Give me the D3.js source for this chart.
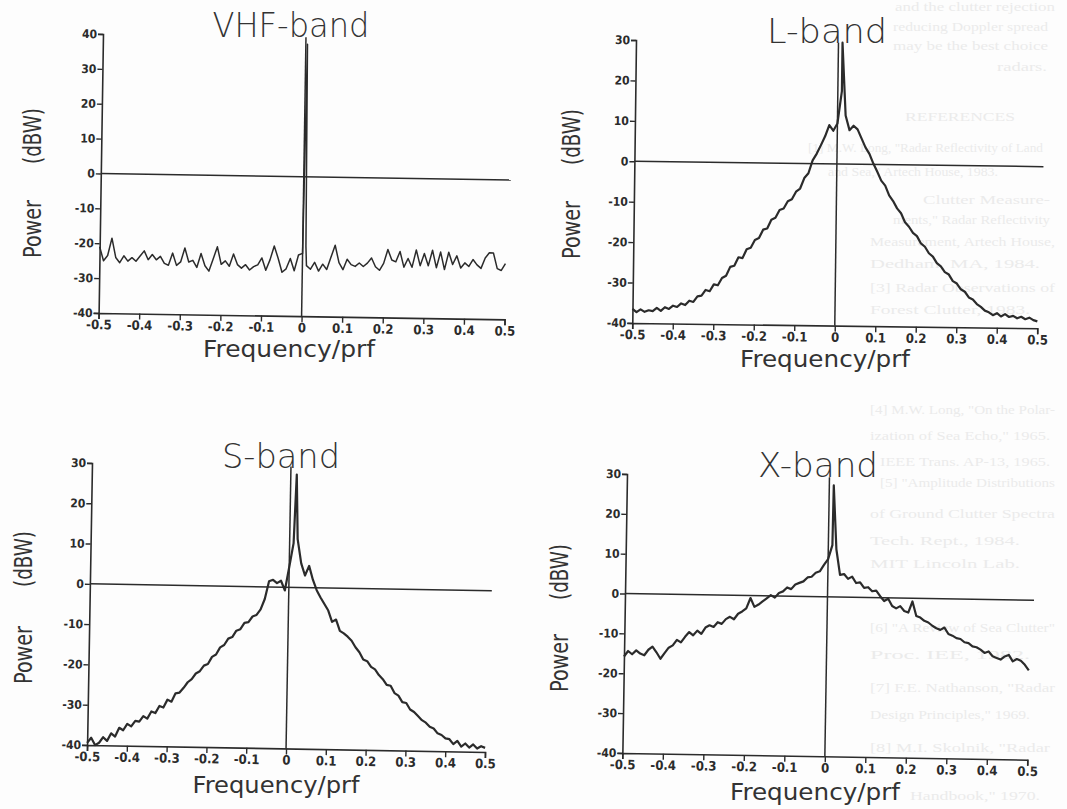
<!DOCTYPE html>
<html>
<head>
<meta charset="utf-8">
<script src="https://cdn.jsdelivr.net/npm/d3@7"></script>
<style>
  body { margin: 0; background: #fdfdfd; }
  svg { display: block; }
</style>
</head>
<body>
<svg id="chart" width="1067" height="809"></svg>
<script>
// frequency grid (fraction of prf), one value every 0.01
var freqGrid = d3.range(-50, 51).map(function (i) { return i / 100; });

// power (dBW) at the grid frequencies
var vhfPower = [-21, -25, -23.5, -18.5, -24, -25.5, -23.5, -25, -24, -25,
  -23.5, -22, -24.5, -23, -24.5, -23.5, -25.5, -26, -22.5, -26,
  -25, -21, -25, -24.5, -26.5, -22.5, -26, -27.5, -24, -20.5,
  -25.5, -24.5, -26, -22.5, -25.5, -26.5, -25.5, -27, -26, -25.5,
  -23.5, -27, -24, -20, -23.5, -27.5, -26.5, -23.5, -27, -22.5,
  -22,
  -25.5, -26.5, -24.5, -27, -25, -26.5, -23, -19.5, -24.5, -26.5,
  -23.5, -25, -25.5, -24.5, -25.5, -24.5, -23, -25.5, -26.5, -24.5,
  -20.5, -23.5, -24, -21, -25.5, -23, -25.5, -20.5, -25, -21.5,
  -25, -20.5, -25.5, -21, -26, -21, -24.5, -22, -25.5, -24,
  -25, -23, -24.5, -25.5, -22.5, -21, -21, -25.5, -26, -24];

var lPower = [-36.5, -37.3, -36.6, -37.2, -36.8, -37.0, -36.2, -36.9, -36.0, -36.4,
  -35.6, -35.9, -35.0, -35.4, -34.3, -34.6, -33.2, -33.0, -31.6, -31.9,
  -30.2, -30.4, -28.6, -28.0, -25.8, -25.5, -23.4, -23.6, -21.4, -21.0,
  -19.1, -18.6, -16.5, -16.2, -14.0, -13.5, -11.6, -11.2, -9.4, -8.9,
  -7.0, -6.2, -3.6, -2.4, 0.8, 2.5, 4.6, 6.8, 9.6, 8.2,
  10.0,
  18.0, 12.0, 8.4, 9.5, 8.6, 6.4, 4.2, 2.6, 0.2, -1.8,
  -4.0, -5.2, -7.6, -9.0, -10.8, -12.0, -14.2, -15.3, -16.8, -17.6,
  -19.4, -20.2, -21.8, -22.6, -24.2, -25.0, -26.4, -27.0, -28.6, -29.2,
  -30.6, -31.2, -32.6, -33.1, -34.2, -34.9, -35.8, -36.2, -36.9, -36.4,
  -37.2, -36.6, -37.3, -37.0, -37.6, -37.2, -37.8, -37.4, -38.0, -38.3];

var sPower = [-39.5, -38.2, -40.0, -39.4, -38.0, -38.9, -37.0, -37.8, -35.6, -36.2,
  -34.6, -35.2, -33.8, -34.0, -32.6, -33.2, -31.4, -31.8, -30.0, -30.4,
  -28.4, -28.9, -26.8, -26.6, -25.4, -24.0, -23.2, -21.8, -21.2, -19.8,
  -19.4, -17.6, -17.0, -15.2, -14.6, -13.0, -12.6, -11.0, -10.6, -9.0,
  -8.8, -7.4, -7.0, -5.6, -3.0, 1.4, 1.8, 1.0, 1.6, -0.8,
  5.0,
  11.0, 12.0, 6.0, 3.0, 5.4, 2.0, -0.6, -2.4, -4.0, -5.6,
  -8.4, -7.8, -10.6, -11.2, -12.0, -13.0, -14.6, -15.8, -17.6, -18.0,
  -19.4, -20.0, -21.4, -22.4, -23.8, -24.0, -25.8, -26.4, -28.0, -28.2,
  -29.8, -30.4, -31.4, -32.4, -33.0, -34.0, -34.4, -35.6, -36.0, -36.8,
  -37.0, -38.2, -37.4, -38.8, -38.0, -39.0, -38.2, -39.2, -38.6, -39.0];

var xPower = [-15.8, -14.4, -15.2, -14.2, -15.0, -15.4, -14.0, -13.2, -14.6, -16.2,
  -14.8, -13.4, -12.8, -11.4, -12.0, -10.6, -9.4, -10.2, -9.0, -9.8,
  -8.2, -7.6, -8.0, -6.8, -7.2, -6.0, -5.4, -6.0, -4.6, -4.0,
  -3.2, -0.6, -2.8, -2.2, -1.4, -0.6, 0.2, -0.4, 0.8, 1.2,
  2.2, 1.8, 3.0, 3.4, 3.8, 4.8, 5.0, 6.0, 6.4, 8.0,
  9.5,
  13.0, 12.0, 5.6, 5.8, 4.6, 5.2, 3.6, 3.8, 2.4, 2.6,
  1.6, 1.8, 0.4, -0.8, -0.2, -2.0, -2.6, -2.0, -3.2, -3.6,
  -0.8, -4.4, -4.8, -5.6, -6.0, -6.8, -7.4, -7.8, -7.2, -8.8,
  -9.2, -9.8, -10.0, -10.8, -11.0, -11.8, -12.0, -12.6, -13.4, -13.0,
  -14.2, -14.6, -15.0, -14.2, -13.8, -15.4, -14.8, -15.2, -16.2, -17.6];

// carrier spike points between grid values: [frequency, power]
var vhfSpike = [[0.004, 38], [0.008, -20]];
var lSpike = [[0.01, 30]];
var sSpike = [[0.015, 28]];
var xSpike = [[0.011, 28]];

var xTicks = [-0.5, -0.4, -0.3, -0.2, -0.1, 0, 0.1, 0.2, 0.3, 0.4, 0.5];
var xTickLabels = ["-0.5", "-0.4", "-0.3", "-0.2", "-0.1", "0", "0.1", "0.2", "0.3", "0.4", "0.5"];
var yTicksVhf = [-40, -30, -20, -10, 0, 10, 20, 30, 40];
var yTicks = [-40, -30, -20, -10, 0, 10, 20, 30];

var titles = ["VHF-band", "L-band", "S-band", "X-band"];

var ink = "#2b2b2b";
var svg = d3.select("#chart");

// very faint text of the printed page showing through behind the figure
// [x, baseline, width, text]
var pageLines = [
  [895, 11, 160, "and the clutter rejection"],
  [893, 31, 155, "reducing Doppler spread"],
  [893, 50, 155, "may be the best choice"],
  [997, 71, 50, "radars."],
  [905, 121, 110, "REFERENCES"],
  [808, 152, 235, "[1] M.W. Long, \"Radar Reflectivity of Land"],
  [828, 176, 170, "and Sea,\" Artech House, 1983."],
  [923, 204, 127, "Clutter Measure-"],
  [893, 224, 157, "ments,\" Radar Reflectivity"],
  [870, 246, 185, "Measurement, Artech House,"],
  [870, 268, 170, "Dedham, MA, 1984."],
  [870, 292, 185, "[3] Radar Observations of"],
  [870, 314, 160, "Forest Clutter, 1983."],
  [870, 414, 185, "[4] M.W. Long, \"On the Polar-"],
  [870, 440, 180, "ization of Sea Echo,\" 1965."],
  [880, 466, 170, "IEEE Trans. AP-13, 1965."],
  [880, 487, 175, "[5] \"Amplitude Distributions"],
  [870, 518, 185, "of Ground Clutter Spectra"],
  [870, 545, 150, "Tech. Rept., 1984."],
  [870, 568, 150, "MIT Lincoln Lab."],
  [870, 632, 185, "[6] \"A Review of Sea Clutter\""],
  [870, 659, 160, "Proc. IEE, 1982."],
  [870, 692, 185, "[7] F.E. Nathanson, \"Radar"],
  [870, 719, 160, "Design Principles,\" 1969."],
  [870, 752, 180, "[8] M.I. Skolnik, \"Radar"],
  [910, 800, 130, "Handbook,\" 1970."]
];
svg.append("g")
  .selectAll("text")
  .data(pageLines)
  .enter()
  .append("text")
  .attr("x", function (d) { return d[0]; })
  .attr("y", function (d) { return d[1]; })
  .attr("textLength", function (d) { return d[2]; })
  .attr("lengthAdjust", "spacingAndGlyphs")
  .attr("font-family", "Liberation Serif, serif")
  .attr("font-size", 13)
  .attr("fill", "#ebebeb")
  .text(function (d) { return d[3]; });

var panels = [
  { title: titles[0], power: vhfPower, spike: vhfSpike, yTicks: yTicksVhf, yDom: [-40, 40],
    left: 103, top: 34, w: 406, h: 279, rot: 0.9, lw: 1.5,
    tx: 291, ty: 37, tl: 157, fx: 289, fy: 357, fl: 172,
    px: 41, pPow: 229, pDbw: 136 },
  { title: titles[1], power: lPower, spike: lSpike, yTicks: yTicks, yDom: [-40, 30],
    left: 636, top: 40, w: 405, h: 283, rot: 0.75, lw: 2.2,
    tx: 827, ty: 43, tl: 120, fx: 825, fy: 367, fl: 170,
    px: 580, pPow: 230, pDbw: 137 },
  { title: titles[2], power: sPower, spike: sSpike, yTicks: yTicks, yDom: [-40, 30],
    left: 92, top: 463, w: 398, h: 282, rot: 1.0, lw: 2.2,
    tx: 281, ty: 468, tl: 118, fx: 276, fy: 793, fl: 167,
    px: 32, pPow: 655, pDbw: 559 },
  { title: titles[3], power: xPower, spike: xSpike, yTicks: yTicks, yDom: [-40, 30],
    left: 627, top: 474, w: 405, h: 279, rot: 0.95, lw: 2.2,
    tx: 818, ty: 477, tl: 120, fx: 815, fy: 800, fl: 170,
    px: 568, pPow: 663, pDbw: 572 }
];

panels.forEach(function (p) {
  var x = d3.scaleLinear().domain([-0.5, 0.5]).range([0, p.w]);
  var y = d3.scaleLinear().domain(p.yDom).range([p.h, 0]);

  // the scanned plot is tilted slightly clockwise
  var g = svg.append("g")
    .attr("transform", "translate(" + p.left + "," + p.top + ") rotate(" + p.rot + ")");

  var xAxis = g.append("g")
    .attr("transform", "translate(0," + p.h + ")")
    .call(d3.axisBottom(x).tickValues(xTicks).tickSize(6).tickPadding(1)
      .tickFormat(function (d, i) { return xTickLabels[i]; }));
  var yAxis = g.append("g")
    .call(d3.axisLeft(y).tickValues(p.yTicks).tickSize(5).tickPadding(1)
      .tickFormat(function (d) { return String(d); }));

  [xAxis, yAxis].forEach(function (a) {
    a.select(".domain").attr("stroke", ink).attr("stroke-width", 1.6);
    a.selectAll(".tick line").attr("stroke", ink).attr("stroke-width", 1.4);
    a.selectAll(".tick text")
      .attr("fill", ink)
      .attr("font-family", "DejaVu Sans Condensed, Liberation Sans Narrow, Arial Narrow, sans-serif")
      .attr("font-weight", "bold");
  });
  xAxis.selectAll(".tick text").attr("font-size", 13);
  yAxis.selectAll(".tick text").attr("font-size", 12);

  // reference lines at zero power and zero frequency
  g.append("line")
    .attr("x1", x(-0.5)).attr("x2", x(0.51))
    .attr("y1", y(0)).attr("y2", y(0))
    .attr("stroke", ink).attr("stroke-width", 1.5);
  g.append("line")
    .attr("x1", x(0)).attr("x2", x(0))
    .attr("y1", y(p.yDom[0])).attr("y2", y(p.yDom[1]))
    .attr("stroke", ink).attr("stroke-width", 1.5);

  var pts = freqGrid.map(function (f, i) { return [f, p.power[i]]; })
    .concat(p.spike)
    .sort(function (a, b) { return a[0] - b[0]; });

  g.append("path")
    .datum(pts)
    .attr("fill", "none")
    .attr("stroke", ink)
    .attr("stroke-width", p.lw)
    .attr("stroke-linejoin", "round")
    .attr("d", d3.line().x(function (d) { return x(d[0]); }).y(function (d) { return y(d[1]); }));

  // labels
  svg.append("text")
    .attr("x", p.tx).attr("y", p.ty)
    .attr("text-anchor", "middle")
    .attr("font-family", "DejaVu Sans, sans-serif")
    .attr("font-weight", 300)
    .attr("font-size", 34)
    .attr("fill", "#333")
    .attr("textLength", p.tl)
    .attr("lengthAdjust", "spacingAndGlyphs")
    .text(p.title);

  svg.append("text")
    .attr("x", p.fx).attr("y", p.fy)
    .attr("text-anchor", "middle")
    .attr("font-family", "DejaVu Sans, sans-serif")
    .attr("font-size", 23)
    .attr("fill", "#333")
    .attr("textLength", p.fl)
    .attr("lengthAdjust", "spacingAndGlyphs")
    .text("Frequency/prf");

  [["Power", p.pPow, 58], ["(dBW)", p.pDbw, 56]].forEach(function (t) {
    svg.append("text")
      .attr("transform", "translate(" + p.px + "," + t[1] + ") rotate(-90)")
      .attr("text-anchor", "middle")
      .attr("font-family", "DejaVu Sans, sans-serif")
      .attr("font-size", 25)
      .attr("fill", "#333")
      .attr("textLength", t[2])
      .attr("lengthAdjust", "spacingAndGlyphs")
      .text(t[0]);
  });
});
</script>
</body>
</html>
